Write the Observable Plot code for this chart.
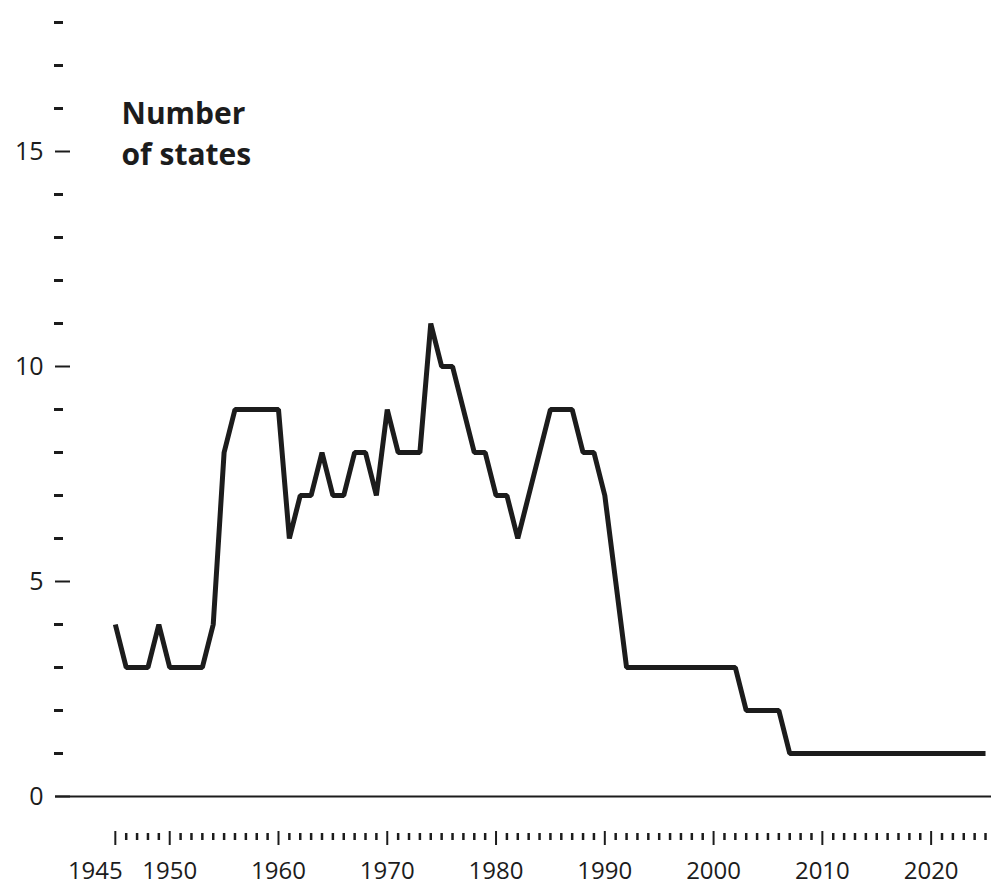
<!DOCTYPE html>
<html>
<head>
<meta charset="utf-8">
<script src="https://cdn.jsdelivr.net/npm/d3@7"></script>
<script src="https://cdn.jsdelivr.net/npm/@observablehq/plot@0.6"></script>
<style>
  html, body { margin: 0; padding: 0; background: #fff; }
  #chart svg { display: block; }
</style>
</head>
<body>
<div id="chart"></div>
<script>
const years = [1945,1946,1947,1948,1949,1950,1951,1952,1953,1954,1955,1956,1957,1958,1959,1960,
  1961,1962,1963,1964,1965,1966,1967,1968,1969,1970,1971,1972,1973,1974,1975,1976,1977,1978,1979,1980,
  1981,1982,1983,1984,1985,1986,1987,1988,1989,1990,1991,1992,1993,1994,1995,1996,1997,1998,1999,2000,
  2001,2002,2003,2004,2005,2006,2007,2008,2009,2010,2011,2012,2013,2014,2015,2016,2017,2018,2019,2020,
  2021,2022,2023,2024,2025];
const states = [4,3,3,3,4,3,3,3,3,4,8,9,9,9,9,9,
  6,7,7,8,7,7,8,8,7,9,8,8,8,11,10,10,9,8,8,7,
  7,6,7,8,9,9,9,8,8,7,5,3,3,3,3,3,3,3,3,3,
  3,3,2,2,2,2,1,1,1,1,1,1,1,1,1,1,1,1,1,1,
  1,1,1,1,1];

const yLabelTicks = [0, 5, 10, 15];
const yMinorTicks = [1,2,3,4,6,7,8,9,11,12,13,14,16,17,18];
const xMajorTicks = [1945, 1950, 1960, 1970, 1980, 1990, 2000, 2010, 2020];
const xLabelTicks = [1950, 1960, 1970, 1980, 1990, 2000, 2010, 2020];
const xFirstLabel = [1945];
const xMinorTicks = d3.range(1946, 2026).filter(y => !xMajorTicks.includes(y));
const title = "Number\nof states";

const data = years.map((year, i) => ({year, value: states[i]}));
const ink = "#1c1c1c";

const chart = Plot.plot({
  width: 991,
  height: 886,
  marginLeft: 55,
  marginRight: 0,
  marginTop: 22,
  marginBottom: 90,
  style: {fontFamily: "'Open Sans', sans-serif", color: ink, background: "#fff"},
  x: {domain: [1939.5, 2025.55]},
  y: {domain: [0, 18]},
  marks: [
    // y axis: major ticks with labels, minor ticks
    Plot.axisY({ticks: yLabelTicks, tickSize: 15, dx: 15, tickPadding: 12, fontSize: 25, strokeWidth: 2, label: null, stroke: ink, fill: ink}),
    Plot.axisY({ticks: yMinorTicks, tickSize: 9, dx: 8, tickFormat: () => "", strokeWidth: 3, label: null, stroke: ink}),
    // x axis: major & minor ticks, labels
    Plot.axisX({ticks: xMajorTicks, tickSize: 14, dy: 35, tickFormat: () => "", strokeWidth: 2, label: null, stroke: ink}),
    Plot.axisX({ticks: xMinorTicks, tickSize: 7, dy: 37, tickFormat: () => "", strokeWidth: 2.5, label: null, stroke: ink}),
    Plot.axisX({ticks: xLabelTicks, tickSize: 0, tickPadding: 0, dy: 65, tickFormat: d => String(d), fontSize: 24, label: null, fill: ink}),
    Plot.axisX({ticks: xFirstLabel, tickSize: 0, tickPadding: 0, dy: 65, dx: -20, tickFormat: d => String(d), fontSize: 24, label: null, fill: ink}),
    // baseline
    Plot.ruleY([0], {stroke: ink, strokeWidth: 2}),
    // data line
    Plot.line(data, {x: "year", y: "value", stroke: ink, strokeWidth: 5, strokeLinejoin: "miter", strokeLinecap: "butt", curve: "linear"}),
    // title
    Plot.text([title], {frameAnchor: "top-left", textAnchor: "start", lineAnchor: "top", dx: 66, dy: 72, fontSize: 30, fontWeight: "bold", lineHeight: 1.37, fill: ink})
  ]
});
document.getElementById("chart").append(chart);
</script>
</body>
</html>
